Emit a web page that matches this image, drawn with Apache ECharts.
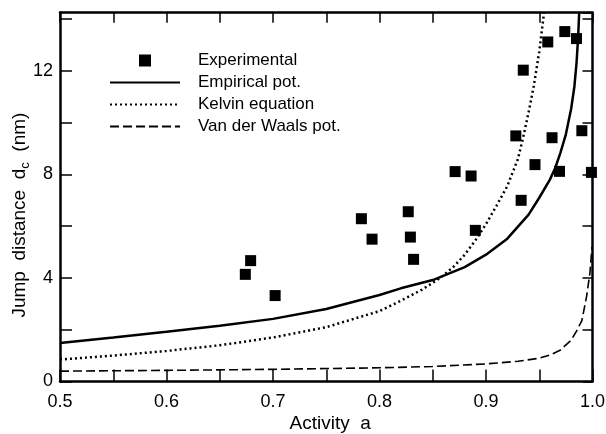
<!DOCTYPE html>
<html><head><meta charset="utf-8">
<script src="https://cdn.jsdelivr.net/npm/echarts@6/dist/echarts.min.js"></script>
<style>html,body{margin:0;padding:0;background:#fff}#c{width:606px;height:434px}</style>
</head><body><div id="c"></div>
<script>
// Experimental data
var expX = [0.674,0.679,0.702,0.783,0.793,0.827,0.829,0.832,0.871,0.886,0.890,0.928,0.933,0.935,0.946,0.958,0.962,0.969,0.974,0.985,0.990,0.999];
var expY = [4.14,4.67,3.32,6.29,5.50,6.56,5.58,4.72,8.11,7.94,5.84,9.49,7.00,12.03,8.38,13.12,9.42,8.12,13.52,13.25,9.69,8.08];
// Empirical potential curve
var empX = [0.5,0.55,0.6,0.65,0.7,0.75,0.8,0.82,0.85,0.88,0.9,0.92,0.94,0.95,0.96,0.965,0.97,0.975,0.98,0.983,0.985,0.9865,0.9875];
var empY = [1.49,1.70,1.92,2.15,2.42,2.80,3.34,3.60,3.92,4.42,4.90,5.52,6.45,7.10,7.80,8.25,8.85,9.55,10.55,11.4,12.3,13.3,14.25];
// Kelvin equation curve
var kelX = [0.5,0.55,0.6,0.65,0.7,0.75,0.8,0.82,0.84,0.857,0.87,0.88,0.89,0.9,0.91,0.92,0.93,0.935,0.94,0.945,0.95,0.9545];
var kelY = [0.85,1.00,1.18,1.40,1.70,2.10,2.72,3.12,3.55,4.00,4.45,4.90,5.45,6.08,6.80,7.55,8.60,9.45,10.40,11.45,12.75,14.25];
// Van der Waals potential curve
var vdwX = [0.5,0.6,0.7,0.8,0.85,0.9,0.93,0.95,0.96,0.97,0.98,0.985,0.99,0.9945,0.9976,0.9995];
var vdwY = [0.40,0.43,0.47,0.53,0.58,0.68,0.78,0.90,1.02,1.22,1.60,1.95,2.35,3.30,4.20,5.20];
var xTickLabels = ['0.5','0.6','0.7','0.8','0.9','1.0'];
var yTickLabels = ['0','4','8','12'];

function zip(a,b){return a.map(function(v,i){return [v,b[i]];});}
var F = 'Liberation Sans, Arial, sans-serif';
var chart = echarts.init(document.getElementById('c'));
function xFmt(v){var s=v.toFixed(1);return (Math.abs(v*10-Math.round(v*10))<1e-6 && xTickLabels.indexOf(s)>=0)?s:'';}
function yFmt(v){var s=String(Math.round(v));return (Math.abs(v-Math.round(v))<1e-6 && yTickLabels.indexOf(s)>=0)?s:'';}
var axLine = {show:true,onZero:false,lineStyle:{color:'#000',width:2.5}};
var hideSym = {opacity:0};
chart.setOption({
  animation:false,
  backgroundColor:'#fff',
  grid:{left:60,right:13.5,top:12.7,bottom:52.5,containLabel:false,outerBoundsMode:'none'},
  legend:{
    orient:'vertical', left:104, top:47, itemWidth:70, itemHeight:12, itemGap:5,
    textStyle:{fontFamily:F,fontSize:17,color:'#000',padding:[0,0,0,13]},
    data:[
      {name:'Experimental',icon:'path://M0,0H10V10H0Z'},
      {name:'Empirical pot.',itemStyle:hideSym},
      {name:'Kelvin equation',itemStyle:hideSym},
      {name:'Van der Waals pot.',itemStyle:hideSym}
    ]
  },
  xAxis:[
    {type:'value',min:0.5,max:1.0,interval:0.05,position:'bottom',
     axisLine:axLine,axisTick:{inside:true,length:12,lineStyle:{color:'#000',width:1.5}},
     splitLine:{show:false},
     axisLabel:{formatter:xFmt,fontFamily:F,fontSize:18,color:'#000',margin:12},
     name:'Activity  a',nameLocation:'middle',nameGap:33,nameMoveOverlap:false,
     nameTextStyle:{fontFamily:F,fontSize:19,color:'#000',padding:[0,0,0,8]}},
    {type:'value',min:0.5,max:1.0,interval:0.05,position:'top',
     axisLine:axLine,axisTick:{inside:true,length:10,lineStyle:{color:'#000',width:1.5}},
     splitLine:{show:false},axisLabel:{show:false}}
  ],
  yAxis:[
    {type:'value',min:0,max:14.25,interval:2,position:'left',
     axisLine:axLine,axisTick:{inside:true,length:12,lineStyle:{color:'#000',width:1.5}},
     splitLine:{show:false},
     axisLabel:{formatter:yFmt,fontFamily:F,fontSize:18,color:'#000',margin:7,showMaxLabel:false},
     name:'Jump  distance  d{s|c}  (nm)',nameLocation:'middle',nameGap:28,nameRotate:90,nameMoveOverlap:false,
     nameTextStyle:{fontFamily:F,fontSize:19,color:'#000',padding:[0,36,0,0],rich:{s:{fontFamily:F,fontSize:13,color:'#000',padding:[11,0,0,0]}}}},
    {type:'value',min:0,max:14.25,interval:2,position:'right',
     axisLine:axLine,axisTick:{inside:true,length:10,lineStyle:{color:'#000',width:1.5}},
     splitLine:{show:false},axisLabel:{show:false}}
  ],
  series:[
    {name:'Experimental',type:'scatter',symbol:'rect',symbolSize:11,
     itemStyle:{color:'#000',opacity:1},data:zip(expX,expY),z:5},
    {name:'Empirical pot.',type:'line',symbol:'none',clip:true,
     lineStyle:{color:'#000',width:2.5,type:'solid'},itemStyle:{color:'#000'},data:zip(empX,empY)},
    {name:'Kelvin equation',type:'line',symbol:'none',clip:true,
     lineStyle:{color:'#000',width:2.5,type:[2,3]},itemStyle:{color:'#000'},data:zip(kelX,kelY)},
    {name:'Van der Waals pot.',type:'line',symbol:'none',clip:true,
     lineStyle:{color:'#000',width:1.6,type:[9,4]},itemStyle:{color:'#000'},data:zip(vdwX,vdwY)}
  ]
});
</script></body></html>
